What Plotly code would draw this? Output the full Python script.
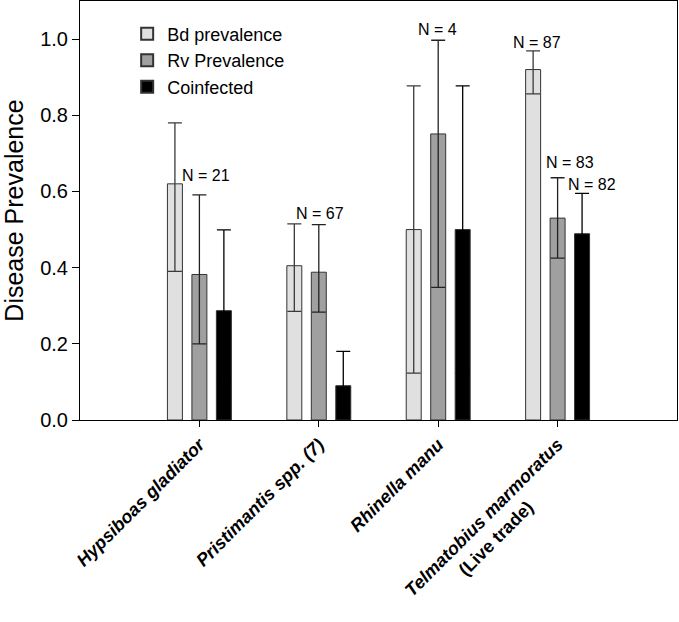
import plotly.graph_objects as go

NB = "&#160;" * 13
categories = [
    "<b><i>Hypsiboas gladiator</i></b>",
    "<b><i>Pristimantis spp. (7)</i></b>",
    "<b><i>Rhinella manu</i></b>",
    "<b><i>Telmatobius marmoratus</i><br>(Live trade)" + NB + "</b>",
]

series_names = ["Bd prevalence", "Rv Prevalence", "Coinfected"]

bd = [0.62, 0.405, 0.50, 0.92]
bd_hi = [0.78, 0.515, 0.877, 0.969]
bd_lo = [0.39, 0.285, 0.123, 0.856]

rv = [0.382, 0.388, 0.751, 0.530]
rv_hi = [0.591, 0.513, 0.997, 0.636]
rv_lo = [0.200, 0.283, 0.348, 0.425]

co = [0.287, 0.09, 0.50, 0.489]
co_hi = [0.499, 0.18, 0.877, 0.595]
co_lo = [0.10, 0.02, 0.123, 0.385]

n_labels = ["N = 21", "N = 67", "N = 4", "N = 87", "N = 83", "N = 82"]
n_cat_index = [0, 1, 2, 3, 3, 3]
n_y = [0.643, 0.543, 1.024, 0.99, 0.675, 0.619]

colors = ["#e0e0e0", "#a0a0a0", "#000000"]
err_colors = ["#3a3a3a", "#222222", "#000000"]

fig = go.Figure()
for name, vals, hi, lo, col, ecol in zip(series_names, [bd, rv, co], [bd_hi, rv_hi, co_hi],
                                         [bd_lo, rv_lo, co_lo], colors, err_colors):
    fig.add_trace(go.Bar(
        name=name, x=categories, y=vals,
        marker=dict(color=col, line=dict(color="#333333", width=1)),
        error_y=dict(type="data", symmetric=False,
                     array=[h - v for h, v in zip(hi, vals)],
                     arrayminus=[v - l for v, l in zip(vals, lo)],
                     color=ecol, thickness=1.3, width=7),
    ))

xshifts = [7, 1.5, -1, -20.5, 12.5, 34.5]
for lab, ci, yy, xs in zip(n_labels, n_cat_index, n_y, xshifts):
    fig.add_annotation(x=categories[ci], y=yy, text=lab, showarrow=False,
                       xshift=xs, font=dict(size=16, color="black"))

font_family = "Liberation Sans, Arial, sans-serif"
fig.update_layout(
    width=679, height=622,
    margin=dict(l=80, r=2, t=1, b=202, autoexpand=False),
    paper_bgcolor="white", plot_bgcolor="white",
    font=dict(family=font_family, color="black"),
    barmode="group", bargap=0.385, bargroupgap=0.388,
    showlegend=True,
    legend=dict(x=0.079, y=0.965, xanchor="left", yanchor="top",
                font=dict(size=18), bgcolor="rgba(0,0,0,0)",
                tracegroupgap=0, itemsizing="constant"),
    xaxis=dict(range=[-1, 4], showline=True, linecolor="black", linewidth=1,
               mirror=True, ticks="outside", ticklen=6, tickcolor="black",
               tickangle=-45, tickfont=dict(size=18, color="black"),
               showgrid=False, automargin=False),
    yaxis=dict(range=[0, 1.1], showline=True, linecolor="black", linewidth=1,
               mirror=True, ticks="outside", ticklen=7, tickcolor="black",
               tickvals=[0, 0.2, 0.4, 0.6, 0.8, 1.0], tickformat=".1f",
               tickfont=dict(size=20, color="black"), showgrid=False, zeroline=False,
               automargin=False,
               title=dict(text="Disease Prevalence", font=dict(size=25, color="black"))),
)

fig.write_html(
    "out.html",
    config={"displayModeBar": False},
    post_script="document.body.style.margin='0';document.body.style.overflow='hidden';"
                "document.documentElement.style.overflow='hidden';",
)
